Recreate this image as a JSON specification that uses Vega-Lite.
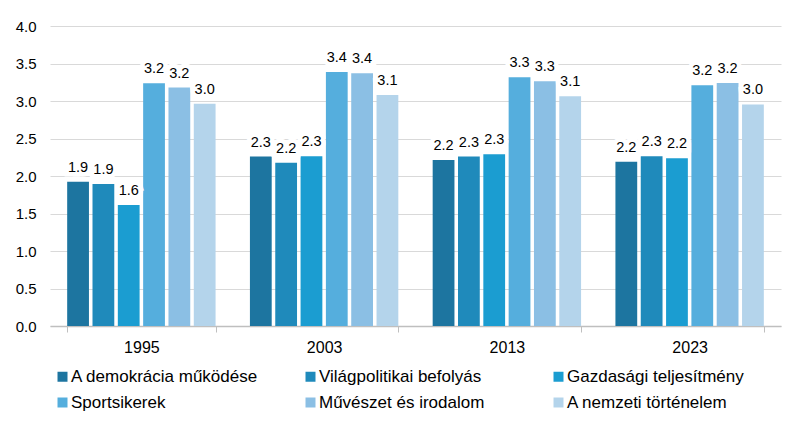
{
  "$schema": "https://vega.github.io/schema/vega-lite/v6.json",
  "width": 731,
  "height": 300,
  "autosize": {"type": "none"},
  "padding": {"left": 50, "top": 26, "right": 11, "bottom": 98},
  "background": "white",
  "config": {
    "font": "Liberation Sans",
    "view": {"stroke": null}
  },
  "data": {
    "values": [
      {"year": "1995", "series": "A demokrácia működése", "value": 1.924},
      {"year": "1995", "series": "Világpolitikai befolyás", "value": 1.893},
      {"year": "1995", "series": "Gazdasági teljesítmény", "value": 1.613},
      {"year": "1995", "series": "Sportsikerek", "value": 3.236},
      {"year": "1995", "series": "Művészet és irodalom", "value": 3.18},
      {"year": "1995", "series": "A nemzeti történelem", "value": 2.964},
      {"year": "2003", "series": "A demokrácia működése", "value": 2.26},
      {"year": "2003", "series": "Világpolitikai befolyás", "value": 2.178},
      {"year": "2003", "series": "Gazdasági teljesítmény", "value": 2.262},
      {"year": "2003", "series": "Sportsikerek", "value": 3.387},
      {"year": "2003", "series": "Művészet és irodalom", "value": 3.369},
      {"year": "2003", "series": "A nemzeti történelem", "value": 3.08},
      {"year": "2013", "series": "A demokrácia működése", "value": 2.213},
      {"year": "2013", "series": "Világpolitikai befolyás", "value": 2.26},
      {"year": "2013", "series": "Gazdasági teljesítmény", "value": 2.289},
      {"year": "2013", "series": "Sportsikerek", "value": 3.316},
      {"year": "2013", "series": "Művészet és irodalom", "value": 3.262},
      {"year": "2013", "series": "A nemzeti történelem", "value": 3.062},
      {"year": "2023", "series": "A demokrácia működése", "value": 2.191},
      {"year": "2023", "series": "Világpolitikai befolyás", "value": 2.262},
      {"year": "2023", "series": "Gazdasági teljesítmény", "value": 2.236},
      {"year": "2023", "series": "Sportsikerek", "value": 3.209},
      {"year": "2023", "series": "Művészet és irodalom", "value": 3.24},
      {"year": "2023", "series": "A nemzeti történelem", "value": 2.955}
    ]
  },
  "encoding": {
    "x": {
      "field": "year",
      "type": "nominal",
      "title": null,
      "scale": {"paddingInner": 0.188, "paddingOuter": 0.094},
      "axis": {
        "labelAngle": 0,
        "labelFontSize": 16,
        "labelColor": "#000000",
        "labelPadding": 7,
        "tickBand": "extent",
        "tickSize": 6,
        "tickColor": "#bfbfbf",
        "domainColor": "#bfbfbf",
        "domainWidth": 1.5,
        "grid": false
      }
    },
    "xOffset": {
      "field": "series",
      "type": "nominal",
      "sort": ["A demokrácia működése", "Világpolitikai befolyás", "Gazdasági teljesítmény", "Sportsikerek", "Művészet és irodalom", "A nemzeti történelem"],
      "scale": {"paddingInner": 0.14, "paddingOuter": 0}
    },
    "y": {
      "field": "value",
      "type": "quantitative",
      "title": null,
      "scale": {"domain": [0, 4], "nice": false},
      "axis": {
        "values": [0, 0.5, 1, 1.5, 2, 2.5, 3, 3.5, 4],
        "format": ".1f",
        "labelFontSize": 15,
        "labelColor": "#000000",
        "labelPadding": 14,
        "ticks": false,
        "tickSize": 0,
        "domain": false,
        "grid": true,
        "gridColor": "#d9d9d9",
        "gridWidth": 1
      }
    }
  },
  "layer": [
    {
      "mark": {"type": "bar"},
      "encoding": {
        "color": {
          "field": "series",
          "type": "nominal",
          "title": null,
          "scale": {
            "domain": ["A demokrácia működése", "Világpolitikai befolyás", "Gazdasági teljesítmény", "Sportsikerek", "Művészet és irodalom", "A nemzeti történelem"],
            "range": ["#1d75a0", "#1f8abb", "#1b9dd1", "#55aedd", "#8bbfe4", "#b4d4eb"]
          },
          "legend": {
            "orient": "none",
            "legendX": 4,
            "legendY": 342,
            "direction": "horizontal",
            "columns": 3,
            "gridAlign": "all",
            "columnPadding": 43,
            "rowPadding": 8,
            "padding": 0,
            "symbolType": "square",
            "symbolSize": 100,
            "symbolStrokeWidth": 0,
            "labelFontSize": 17,
            "labelColor": "#000000",
            "labelOffset": 0,
            "labelLimit": 400
          }
        }
      }
    },
    {
      "mark": {"type": "text", "baseline": "alphabetic", "dy": -10, "fontSize": 14.5, "color": "white", "stroke": "white", "strokeWidth": 9, "strokeJoin": "miter"},
      "encoding": {"text": {"field": "value", "type": "quantitative", "format": ".1f"}}
    },
    {
      "mark": {"type": "text", "baseline": "alphabetic", "dy": -10, "fontSize": 14.5, "color": "#000000"},
      "encoding": {"text": {"field": "value", "type": "quantitative", "format": ".1f"}}
    }
  ]
}
